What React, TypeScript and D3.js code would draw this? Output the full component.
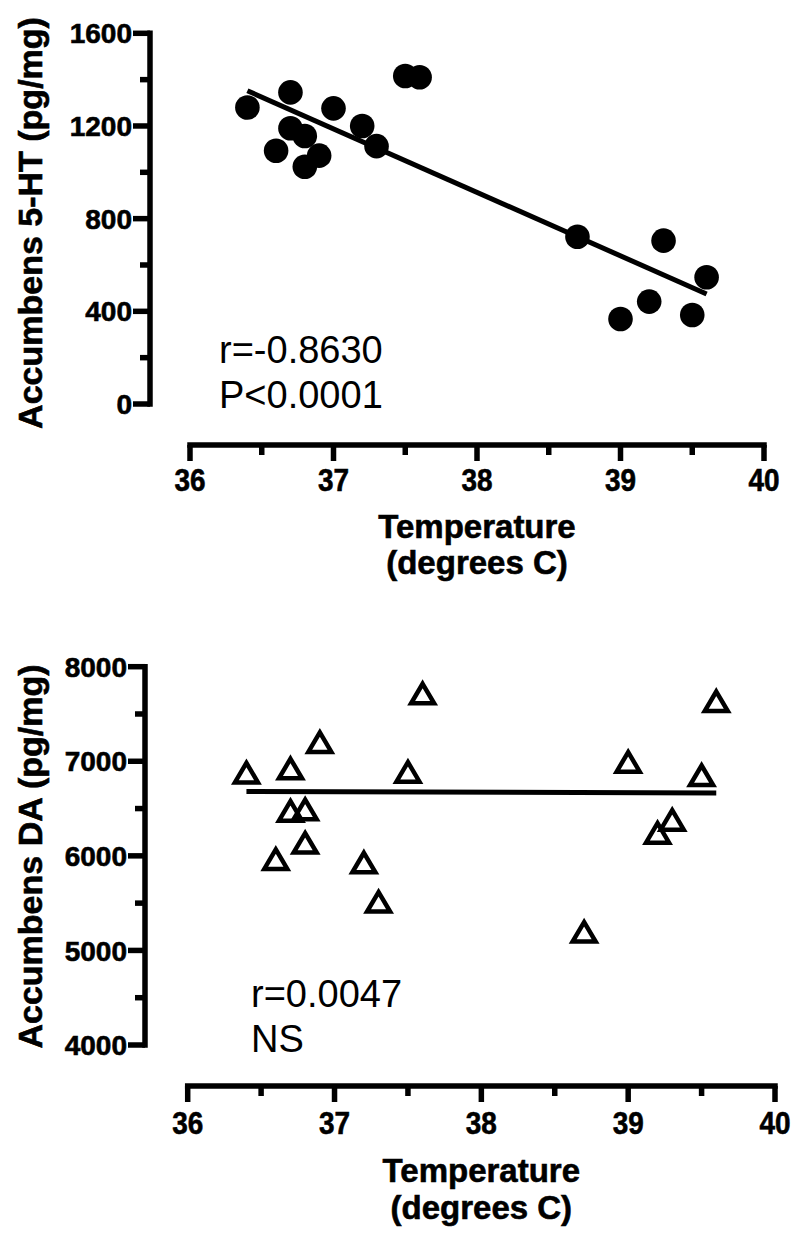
import React from "react";
import * as d3 from "d3";

// ---------- Data ----------
const htTemp = [36.4, 36.7, 36.6, 36.7, 36.8, 36.8, 36.9, 37.0, 37.2, 37.3, 37.5, 37.6, 38.7, 39.3, 39.6, 39.2, 39.0, 39.5];
const htValue = [1280, 1345, 1093, 1190, 1157, 1024, 1072, 1276, 1200, 1113, 1416, 1410, 722, 705, 547, 442, 367, 384];
const htFitX = [36.4, 39.6];
const htFitY = [1352, 475];

const daTemp = [36.4, 36.7, 36.9, 36.7, 36.8, 36.8, 36.6, 37.2, 37.3, 37.5, 37.6, 38.7, 39.0, 39.2, 39.3, 39.5, 39.6];
const daValue = [6882, 6926, 7204, 6478, 6493, 6140, 5967, 5932, 5516, 6890, 7719, 5199, 6996, 6245, 6383, 6855, 7637];
const daFitX = [36.4, 39.6];
const daFitY = [6680, 6665];

const xMajorTicks = [36, 37, 38, 39, 40];
const xMinorTicks = [36.5, 37.5, 38.5, 39.5];
const htMajorTicks = [0, 400, 800, 1200, 1600];
const htMinorTicks = [200, 600, 1000, 1400];
const daMajorTicks = [4000, 5000, 6000, 7000, 8000];
const daMinorTicks = [4500, 5500, 6500, 7500];

const FONT = "'Liberation Sans', Arial, Helvetica, sans-serif";

type PanelProps = {
  xs: number[];
  ys: number[];
  fitX: number[];
  fitY: number[];
  yDomain: [number, number];
  yRange: [number, number];
  xRange: [number, number];
  yAxisX: number;
  xAxisY: number;
  yMajor: number[];
  yMinor: number[];
  yTitle: string;
  yTitleCenter: number;
  tickBaseline: number;
  titleBase1: number;
  titleBase2: number;
  ann: string[];
  annX: number;
  annBase: number[];
  symbol: "circle" | "triangle";
};

const boldStroke = { stroke: "#000", strokeWidth: 0.6 };

function Panel(p: PanelProps) {
  const x = d3.scaleLinear().domain([36, 40]).range(p.xRange);
  const y = d3.scaleLinear().domain(p.yDomain).range(p.yRange);
  const line = d3
    .line<number>()
    .x((_, i) => x(p.fitX[i]))
    .y((d) => y(d));
  const sw = 5.5;
  const xMid = (p.xRange[0] + p.xRange[1]) / 2;
  return (
    <g>
      {/* Y axis */}
      <line x1={p.yAxisX} x2={p.yAxisX} y1={y(p.yDomain[1])} y2={y(p.yDomain[0])} stroke="#000" strokeWidth={sw} strokeLinecap="square" />
      {p.yMajor.map((t) => (
        <g key={"ym" + t}>
          <line x1={p.yAxisX - 17} x2={p.yAxisX} y1={y(t)} y2={y(t)} stroke="#000" strokeWidth={sw} />
          <text x={p.yAxisX - 18} y={y(t)} dy="0.36em" textAnchor="end" fontFamily={FONT} fontWeight="bold" fontSize={28} {...boldStroke}>
            {t}
          </text>
        </g>
      ))}
      {p.yMinor.map((t) => (
        <line key={"yn" + t} x1={p.yAxisX - 10} x2={p.yAxisX} y1={y(t)} y2={y(t)} stroke="#000" strokeWidth={sw} />
      ))}
      <text
        transform={`translate(42,${p.yTitleCenter}) rotate(-90)`}
        textAnchor="middle"
        fontFamily={FONT}
        fontWeight="bold"
        fontSize={34}
        {...boldStroke}
      >
        {p.yTitle}
      </text>

      {/* X axis */}
      <line x1={x(36)} x2={x(40)} y1={p.xAxisY} y2={p.xAxisY} stroke="#000" strokeWidth={sw} strokeLinecap="square" />
      {xMajorTicks.map((t) => (
        <g key={"xm" + t}>
          <line x1={x(t)} x2={x(t)} y1={p.xAxisY} y2={p.xAxisY + 16} stroke="#000" strokeWidth={sw} />
          <g transform={`translate(${x(t)},${p.tickBaseline}) scale(0.9,1)`}>
            <text x={0} y={0} textAnchor="middle" fontFamily={FONT} fontWeight="bold" fontSize={31} {...boldStroke}>
              {t}
            </text>
          </g>
        </g>
      ))}
      {xMinorTicks.map((t) => (
        <line key={"xn" + t} x1={x(t)} x2={x(t)} y1={p.xAxisY} y2={p.xAxisY + 10} stroke="#000" strokeWidth={sw} />
      ))}
      <text x={xMid} y={p.titleBase1} textAnchor="middle" fontFamily={FONT} fontWeight="bold" fontSize={33} {...boldStroke}>
        Temperature
      </text>
      <text x={xMid} y={p.titleBase2} textAnchor="middle" fontFamily={FONT} fontWeight="bold" fontSize={33} {...boldStroke}>
        (degrees C)
      </text>

      {/* Fit line */}
      <path d={line(p.fitY) || ""} fill="none" stroke="#000" strokeWidth={5} />

      {/* Points */}
      {p.xs.map((xv, i) =>
        p.symbol === "circle" ? (
          <circle key={i} cx={x(xv)} cy={y(p.ys[i])} r={12.3} fill="#000" />
        ) : (
          <path
            key={i}
            transform={`translate(${x(xv)},${y(p.ys[i])})`}
            d="M0,-9.5 L11.5,10 L-11.5,10 Z"
            fill="none"
            stroke="#000"
            strokeWidth={4.5}
            strokeLinejoin="miter"
          />
        )
      )}

      {/* Annotation */}
      {p.ann.map((s, i) => (
        <text key={s} x={p.annX} y={p.annBase[i]} fontFamily={FONT} fontSize={38}>
          {s}
        </text>
      ))}
    </g>
  );
}

export default function App() {
  return (
    <svg width={800} height={1241} style={{ position: "absolute", left: 0, top: 0, background: "#fff" }}>
      <rect width={800} height={1241} fill="#fff" />
      <Panel
        xs={htTemp}
        ys={htValue}
        fitX={htFitX}
        fitY={htFitY}
        yDomain={[0, 1600]}
        yRange={[404, 33.3]}
        xRange={[190, 764]}
        yAxisX={150}
        xAxisY={445}
        yMajor={htMajorTicks}
        yMinor={htMinorTicks}
        yTitle="Accumbens 5-HT (pg/mg)"
        yTitleCenter={223}
        tickBaseline={491}
        titleBase1={538}
        titleBase2={574}
        ann={["r=-0.8630", "P<0.0001"]}
        annX={219}
        annBase={[363, 408]}
        symbol="circle"
      />
      <Panel
        xs={daTemp}
        ys={daValue}
        fitX={daFitX}
        fitY={daFitY}
        yDomain={[4000, 8000]}
        yRange={[1045, 666.7]}
        xRange={[187.7, 775]}
        yAxisX={145}
        xAxisY={1086}
        yMajor={daMajorTicks}
        yMinor={daMinorTicks}
        yTitle="Accumbens DA (pg/mg)"
        yTitleCenter={856.5}
        tickBaseline={1134}
        titleBase1={1182}
        titleBase2={1219}
        ann={["r=0.0047", "NS"]}
        annX={251}
        annBase={[1007, 1052]}
        symbol="triangle"
      />
    </svg>
  );
}
